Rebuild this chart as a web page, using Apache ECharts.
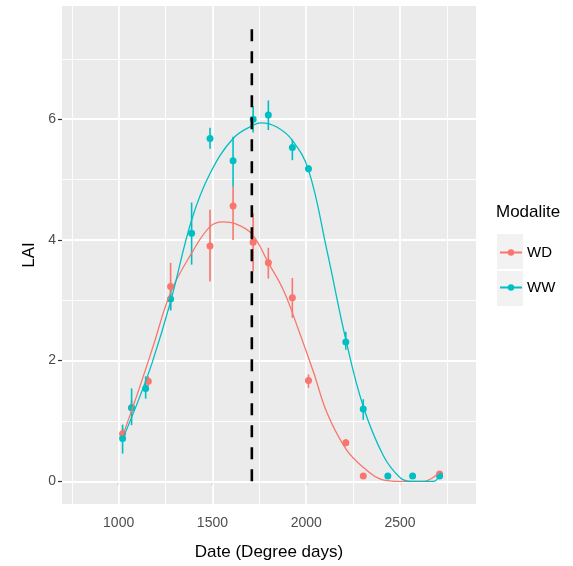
<!DOCTYPE html>
<html>
<head>
<meta charset="utf-8">
<title>LAI</title>
<script src="https://cdn.jsdelivr.net/npm/echarts@6/dist/echarts.min.js"></script>
<style>
  html, body { margin: 0; padding: 0; background: #fff; }
  #chart { width: 573px; height: 566px; }
</style>
</head>
<body>
<div id="chart"></div>
<script>
// points with error bars
const wdDate = [1021, 1069, 1158, 1277, 1487, 1610, 1717, 1798, 1926, 2012, 2211, 2304, 2711]
const wdLai  = [0.79, 1.22, 1.66, 3.23, 3.90, 4.56, 3.96, 3.62, 3.04, 1.67, 0.64, 0.09, 0.12]
const wdLo   = [0.70, 1.10, 1.58, 2.84, 3.31, 4.00, 3.48, 3.36, 2.71, 1.55, 0.58, 0.05, 0.08]
const wdHi   = [0.88, 1.34, 1.74, 3.62, 4.50, 4.88, 4.44, 3.87, 3.37, 1.77, 0.70, 0.13, 0.16]

const wwDate = [1021, 1069, 1144, 1277, 1389, 1487, 1610, 1717, 1798, 1926, 2012, 2211, 2304, 2435, 2567, 2711]
const wwLai  = [0.71, 1.22, 1.54, 3.02, 4.11, 5.68, 5.31, 6.00, 6.07, 5.53, 5.18, 2.31, 1.20, 0.09, 0.09, 0.09]
const wwLo   = [0.46, 0.93, 1.37, 2.83, 3.59, 5.51, 4.88, 5.78, 5.82, 5.32, 5.12, 2.18, 1.02, 0.06, 0.06, 0.06]
const wwHi   = [0.94, 1.54, 1.74, 3.17, 4.62, 5.86, 5.71, 6.22, 6.31, 5.66, 5.24, 2.48, 1.36, 0.12, 0.12, 0.12]

// fitted (smooth) curves
const wdFitX = [1021, 1100, 1180, 1277, 1389, 1487, 1555, 1620, 1710, 1798, 1878, 1960, 2040, 2110, 2211, 2305, 2403, 2500, 2625, 2711]
const wdFitY = [0.75, 1.45, 2.20, 3.13, 3.78, 4.22, 4.30, 4.27, 4.10, 3.62, 3.17, 2.50, 1.80, 1.14, 0.54, 0.23, 0.03, 0.00, 0.00, 0.15]
const wwFitX = [1021, 1100, 1180, 1277, 1389, 1487, 1610, 1717, 1760, 1843, 1926, 2012, 2110, 2211, 2304, 2412, 2501, 2560, 2679, 2711]
const wwFitY = [0.70, 1.30, 1.98, 2.98, 4.33, 5.10, 5.68, 5.90, 5.94, 5.87, 5.65, 5.16, 3.83, 2.35, 1.24, 0.42, 0.06, 0.00, 0.00, 0.10]

// dashed reference line
const vlineX = 1710
const vlineY = [0, 7.5]

// axis ticks and grid lines
const xTicks = [1000, 1500, 2000, 2500]
const xMinor = [750, 1250, 1750, 2250, 2750]
const yTicks = [0, 2, 4, 6]
const yMinor = [1, 3, 5, 7]

const WD_COLOR = '#F8766D'
const WW_COLOR = '#00BFC4'
const FONT = 'Arial, "Liberation Sans", sans-serif'

const zip = (xs, ys) => xs.map((x, i) => [x, ys[i]])
const zip3 = (xs, a, b) => xs.map((x, i) => [x, a[i], b[i]])

function errorBars(name, color, data) {
  return {
    name: name,
    type: 'custom',
    data: data,
    encode: { x: 0, y: [1, 2] },
    z: 3,
    silent: true,
    renderItem: function (params, api) {
      const p1 = api.coord([api.value(0), api.value(1)])
      const p2 = api.coord([api.value(0), api.value(2)])
      return {
        type: 'line',
        shape: { x1: p1[0], y1: p1[1], x2: p2[0], y2: p2[1] },
        style: { stroke: color, lineWidth: 1.6 }
      }
    }
  }
}

function gridLine(axis, v, w) {
  const d = {}
  d[axis] = v
  d.lineStyle = { color: '#ffffff', width: w, type: 'solid' }
  return d
}

function fitLine(name, color, xs, ys) {
  return {
    name: name,
    type: 'line',
    data: zip(xs, ys),
    smooth: 0.4,
    showSymbol: false,
    symbol: 'circle',
    symbolSize: 6,
    itemStyle: { color: color },
    lineStyle: { color: color, width: 1.3 },
    z: 4,
    silent: true
  }
}

const chart = echarts.init(document.getElementById('chart'), null, { renderer: 'canvas' })

chart.setOption({
  animation: false,
  textStyle: { fontFamily: FONT },
  title: {
    text: 'Modalite',
    left: 496,
    top: 204,
    padding: 0,
    textStyle: { fontSize: 17, fontWeight: 'normal', color: '#000', fontFamily: FONT }
  },
  legend: {
    data: ['WD', 'WW'],
    orient: 'vertical',
    left: 499,
    top: 245,
    padding: 0,
    itemWidth: 22,
    itemHeight: 8,
    itemGap: 20,
    z: 5,
    selectedMode: false,
    textStyle: { fontSize: 15, color: '#000', fontFamily: FONT }
  },
  graphic: [
    { type: 'rect', left: 497, top: 234, z: 1, shape: { width: 26, height: 35 }, style: { fill: '#F2F2F2' } },
    { type: 'rect', left: 497, top: 271, z: 1, shape: { width: 26, height: 35 }, style: { fill: '#F2F2F2' } }
  ],
  grid: {
    left: 62,
    right: 97,
    top: 6,
    bottom: 61,
    show: true,
    backgroundColor: '#EBEBEB',
    borderWidth: 0,
    containLabel: false
  },
  xAxis: {
    type: 'value',
    min: 698,
    max: 2905,
    name: 'Date (Degree days)',
    nameLocation: 'middle',
    nameGap: 40,
    nameTextStyle: { fontSize: 17, color: '#000', fontFamily: FONT },
    axisLine: { show: false },
    axisTick: { show: true, length: 4, customValues: xTicks, lineStyle: { color: '#333', width: 1.2 } },
    axisLabel: {
      customValues: xTicks,
      margin: 12,
      fontSize: 14,
      color: '#4D4D4D',
      formatter: v => String(v)
    },
    splitLine: { show: false }
  },
  yAxis: {
    type: 'value',
    min: -0.375,
    max: 7.875,
    name: 'LAI',
    nameLocation: 'middle',
    nameGap: 18,
    nameRotate: 90,
    nameTextStyle: { fontSize: 17, color: '#000', fontFamily: FONT },
    axisLine: { show: false },
    axisTick: { show: true, length: 4, customValues: yTicks, lineStyle: { color: '#333', width: 1.2 } },
    axisLabel: {
      customValues: yTicks,
      margin: 6,
      fontSize: 14,
      color: '#4D4D4D',
      formatter: v => String(v)
    },
    splitLine: { show: false }
  },
  series: [
    // fitted curves (first, so the legend takes their icon)
    fitLine('WD', WD_COLOR, wdFitX, wdFitY),
    fitLine('WW', WW_COLOR, wwFitX, wwFitY),
    // background grid lines, drawn on the axes' scales
    {
      type: 'line',
      data: [],
      z: 1,
      markLine: {
        z: 1,
        silent: true,
        symbol: ['none', 'none'],
        label: { show: false },
        animation: false,
        data: []
          .concat(xMinor.map(v => gridLine('xAxis', v, 0.9)))
          .concat(yMinor.map(v => gridLine('yAxis', v, 0.9)))
          .concat(xTicks.map(v => gridLine('xAxis', v, 1.8)))
          .concat(yTicks.map(v => gridLine('yAxis', v, 1.8)))
      }
    },
    errorBars('WD', WD_COLOR, zip3(wdDate, wdLo, wdHi)),
    {
      name: 'WD',
      type: 'scatter',
      data: zip(wdDate, wdLai),
      symbolSize: 7,
      itemStyle: { color: WD_COLOR, opacity: 1 },
      z: 3
    },
    errorBars('WW', WW_COLOR, zip3(wwDate, wwLo, wwHi)),
    {
      name: 'WW',
      type: 'scatter',
      data: zip(wwDate, wwLai),
      symbolSize: 7,
      itemStyle: { color: WW_COLOR, opacity: 1 },
      z: 3
    },
    // vertical dashed line
    {
      type: 'line',
      data: vlineY.map(y => [vlineX, y]),
      showSymbol: false,
      symbol: 'none',
      lineStyle: { color: '#000', width: 2.6, type: [12, 10] },
      z: 5,
      silent: true
    }
  ]
})
</script>
</body>
</html>
